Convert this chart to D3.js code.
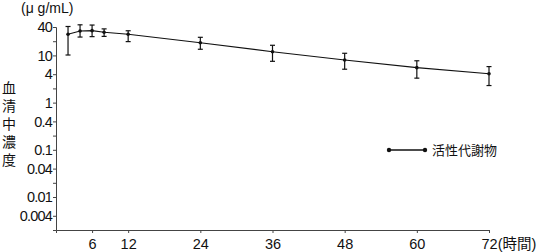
<!DOCTYPE html>
<html>
<head>
<meta charset="utf-8">
<script src="https://cdn.jsdelivr.net/npm/d3@7"></script>
<style>
  body { margin: 0; background: #fff; }
  text { font-family: "Noto Sans CJK JP", "Noto Sans", sans-serif; fill: #111; }
  .num { font-family: "Liberation Sans", "Noto Sans CJK JP", sans-serif; }
</style>
</head>
<body>
<div id="chart"></div>
<script>
const width = 537;
const height = 252;

// data
const hours = [2, 4, 6, 8, 12, 24, 36, 48, 60, 72];
const conc = [28, 33, 33.5, 31, 28, 18.6, 12, 8, 5.5, 4.1];
const errLow = [10.2, 24.5, 25, 25.3, 19.6, 13.5, 7.5, 5.1, 3.3, 2.3];
const errHigh = [41, 44.5, 44, 36.5, 33.3, 24.2, 16.4, 11.1, 7.7, 5.8];
const xTicks = [6, 12, 24, 36, 48, 60, 72];
const yLabelTicks = [40, 10, 4, 1, 0.4, 0.1, 0.04, 0.01, 0.004];
const yMinorTicks = [20, 2, 0.2, 0.02];
const seriesName = '活性代謝物';

const x = d3.scaleLinear().domain([0, 72]).range([56, 489]);
const y = d3.scaleLog().domain([0.002, 40]).range([230, 27]);

const svg = d3.select('#chart').append('svg')
  .attr('width', width)
  .attr('height', height);

// y axis
const yAxis = svg.append('g')
  .attr('transform', `translate(${x(0)},0)`)
  .call(d3.axisLeft(y).tickValues(yLabelTicks.concat(yMinorTicks))
    .tickSize(3).tickPadding(1)
    .tickFormat(d => yLabelTicks.includes(d) ? String(d) : ''));
yAxis.select('.domain').attr('stroke', '#444');
yAxis.selectAll('.tick line').attr('stroke', '#444');
yAxis.selectAll('.tick text')
  .attr('class', 'num')
  .style('font-size', '14.5px')
  .attr('letter-spacing', '-0.8');

// x axis
const xAxis = svg.append('g')
  .attr('transform', `translate(0,${y(0.002)})`)
  .call(d3.axisBottom(x).tickValues(xTicks).tickSize(3).tickPadding(6)
    .tickFormat(d => d === 72 ? '72(時間)' : d));
xAxis.select('.domain').attr('stroke', '#444');
xAxis.selectAll('.tick line').attr('stroke', '#444');
xAxis.selectAll('.tick text').attr('class', 'num').style('font-size', '14.5px');
xAxis.selectAll('.tick').filter(d => d === 72).select('text')
  .attr('text-anchor', 'start').attr('dx', '-8');

// unit label
svg.append('text')
  .attr('class', 'num')
  .attr('x', 21)
  .attr('y', 13)
  .style('font-size', '14px')
  .text('(μ g/mL)');

// vertical y title
svg.append('text')
  .attr('x', 9)
  .attr('y', 81)
  .style('writing-mode', 'vertical-rl')
  .style('font-size', '14px')
  .attr('letter-spacing', '4')
  .text('血清中濃度');

const pts = hours.map((h, i) => ({ h, c: conc[i], lo: errLow[i], hi: errHigh[i] }));

// line
svg.append('path')
  .datum(pts)
  .attr('fill', 'none')
  .attr('stroke', '#111')
  .attr('stroke-width', 1.1)
  .attr('d', d3.line().x(d => x(d.h)).y(d => y(d.c)));

// error bars
const eb = svg.append('g').attr('stroke', '#111').attr('stroke-width', 1.2);
eb.selectAll('line.v').data(pts).join('line').attr('class', 'v')
  .attr('x1', d => x(d.h)).attr('x2', d => x(d.h))
  .attr('y1', d => y(d.lo)).attr('y2', d => y(d.hi));
eb.selectAll('line.t').data(pts).join('line').attr('class', 't')
  .attr('x1', d => x(d.h) - 2.5).attr('x2', d => x(d.h) + 2.5)
  .attr('y1', d => y(d.hi)).attr('y2', d => y(d.hi));
eb.selectAll('line.b').data(pts).join('line').attr('class', 'b')
  .attr('x1', d => x(d.h) - 2.5).attr('x2', d => x(d.h) + 2.5)
  .attr('y1', d => y(d.lo)).attr('y2', d => y(d.lo));

// points
svg.append('g').selectAll('circle').data(pts).join('circle')
  .attr('cx', d => x(d.h)).attr('cy', d => y(d.c)).attr('r', 1.8)
  .attr('fill', '#111');

// legend
const lg = svg.append('g').attr('transform', 'translate(389,150)');
lg.append('line').attr('x1', 0).attr('x2', 36).attr('y1', 0).attr('y2', 0)
  .attr('stroke', '#111').attr('stroke-width', 1.5);
lg.selectAll('circle').data([0, 36]).join('circle')
  .attr('cx', d => d).attr('cy', 0).attr('r', 2.2).attr('fill', '#111');
lg.append('text').attr('x', 43).attr('y', 0).attr('dy', '0.35em')
  .style('font-size', '13px').text(seriesName);
</script>
</body>
</html>
